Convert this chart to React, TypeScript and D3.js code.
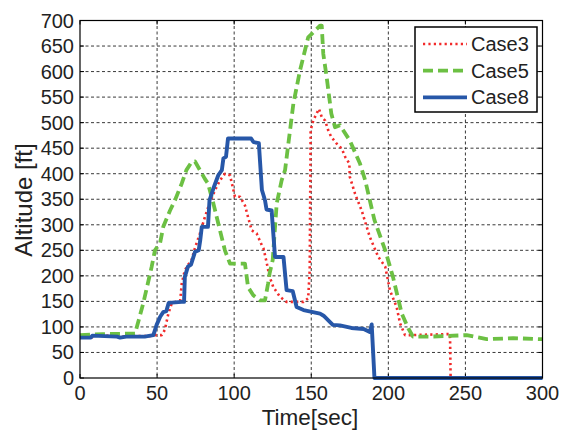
import React from "react";
import * as d3 from "d3";

const xTicks = [0, 50, 100, 150, 200, 250, 300];
const yTicks = [0, 50, 100, 150, 200, 250, 300, 350, 400, 450, 500, 550, 600, 650, 700];

const case3T = [0, 8, 10, 24, 26, 30, 45, 48.6, 53, 55, 57.3, 59.5, 65, 66, 68, 70, 72.4, 74.6, 77.8, 81, 84, 87.6, 90.8, 94, 97.3, 99.5, 100.5, 103.8, 107, 109, 111.4, 114.6, 117.9, 119, 121, 123, 125.4, 129.7, 134, 145, 148, 149, 149.6, 151.3, 153.5, 155, 156.8, 159, 161, 163, 166.5, 169.8, 172, 174.7, 175, 178.4, 182.7, 188, 193.5, 198, 201, 205.4, 207.6, 210.8, 214, 240, 240.4, 300];
const case3V = [80, 80, 84, 82, 80, 82, 82, 84, 84, 94, 126, 146, 152, 185, 211, 221, 231, 255, 283, 315, 342, 368, 387, 400, 397, 368, 355, 355, 338, 315, 289, 283, 260, 254, 227, 198, 178, 159, 149, 149, 156, 211, 485, 504, 518, 527, 511, 504, 485, 472, 459, 449, 433, 420, 394, 361, 328, 276, 237, 218, 172, 139, 107, 84, 84, 86, 0, 0];

const case5T = [0, 15, 35.7, 37.8, 41, 43, 46.5, 48.6, 52, 54, 58.4, 61.6, 66, 69, 72.4, 74.6, 77.8, 81, 83, 86.5, 90.8, 94, 97.3, 107, 109, 112.4, 116.8, 120, 122, 123, 125, 127.6, 130.8, 133, 138.4, 142.7, 148, 152.4, 155.7, 156.8, 157.8, 160, 163, 165.4, 168.6, 175, 181.6, 185, 191, 198, 203, 208.7, 213, 216, 227, 236.7, 250.8, 263.8, 281, 300];
const case5V = [84, 86, 87, 110, 146, 172, 218, 250, 265, 296, 328, 348, 381, 407, 423, 424, 407, 390, 381, 342, 289, 250, 224, 224, 178, 162, 152, 152, 185, 205, 231, 342, 387, 407, 537, 602, 667, 680, 690, 690, 635, 589, 518, 491, 495, 465, 420, 387, 309, 250, 198, 126, 97, 81, 81, 82, 84, 76, 78, 76];

const case8T = [0, 7, 8, 24, 26, 30, 42, 47.6, 49.7, 52, 54, 56, 57.5, 66, 67.5, 68, 70, 72, 74.6, 77, 78, 79, 83, 84, 86.5, 89.7, 92, 93, 94.7, 96, 111, 112.5, 116, 118, 120, 121, 124.3, 126.5, 132, 134, 138, 140.5, 145, 155.7, 158, 163, 164, 168.6, 176, 184, 188, 189.2, 191, 300];
const case8V = [79, 79, 83, 81, 79, 81, 81, 84, 104, 120, 129, 131, 147, 149, 149, 198, 218, 222, 247, 250, 270, 296, 296, 348, 371, 397, 407, 430, 433, 469, 469, 462, 460, 368, 348, 330, 328, 237, 237, 172, 170, 139, 133, 126, 122, 107, 104, 103, 98, 96, 90, 105, 0, 0];

const seriesNames = ["Case3", "Case5", "Case8"];

const FONT = "'Liberation Sans', Arial, Helvetica, sans-serif";

export default function App() {
  const left = 80, right = 542.5, top = 20.5, bottom = 378;
  const x = d3.scaleLinear().domain([0, 300]).range([left, right]);
  const y = d3.scaleLinear().domain([0, 700]).range([bottom, top]);
  const line = d3.line<[number, number]>().x((d) => x(d[0])).y((d) => y(d[1]));
  const mk = (t: number[], v: number[]) => line(t.map((tt, i) => [tt, v[i]] as [number, number])) || "";

  const styles = [
    { stroke: "#f22a2a", width: 2.6, dash: "2.2,3.2" },
    { stroke: "#6cc043", width: 3.8, dash: "10,5" },
    { stroke: "#2757a8", width: 3.9, dash: "" },
  ];
  const paths = [mk(case3T, case3V), mk(case5T, case5V), mk(case8T, case8V)];

  const lgX = 415, lgY = 27, lgW = 122, lgH = 85;

  return (
    <svg width={562} height={430} style={{ position: "fixed", left: 0, top: 0, background: "#fff" }} fontFamily={FONT}>
      <rect x={0} y={0} width={562} height={430} fill="#fff" />
      {xTicks.slice(1, -1).map((t) => (
        <line key={"gx" + t} x1={x(t)} x2={x(t)} y1={top} y2={bottom} stroke="#222" strokeWidth={0.9} strokeDasharray="3,2.5" />
      ))}
      {yTicks.slice(1, -1).map((t) => (
        <line key={"gy" + t} x1={left} x2={right} y1={y(t)} y2={y(t)} stroke="#222" strokeWidth={0.9} strokeDasharray="3,2.5" />
      ))}
      {xTicks.map((t) => (
        <g key={"tx" + t}>
          <line x1={x(t)} x2={x(t)} y1={bottom} y2={bottom - 4} stroke="#000" />
          <line x1={x(t)} x2={x(t)} y1={top} y2={top + 4} stroke="#000" />
          <text x={x(t)} y={400} textAnchor="middle" fontSize={20} fill="#222">{t}</text>
        </g>
      ))}
      {yTicks.map((t) => (
        <g key={"ty" + t}>
          <line x1={left} x2={left + 4} y1={y(t)} y2={y(t)} stroke="#000" />
          <line x1={right} x2={right - 4} y1={y(t)} y2={y(t)} stroke="#000" />
          <text x={74} y={y(t) + 7} textAnchor="end" fontSize={20} fill="#222">{t}</text>
        </g>
      ))}
      {paths.map((p, i) => (
        <path key={"s" + i} d={p} fill="none" stroke={styles[i].stroke} strokeWidth={styles[i].width}
          strokeDasharray={styles[i].dash || undefined} strokeLinejoin="round" />
      ))}
      <rect x={left} y={top} width={right - left} height={bottom - top} fill="none" stroke="#000" strokeWidth={1.2} />
      <text x={310} y={425} textAnchor="middle" fontSize={22.5} fill="#222">Time[sec]</text>
      <text transform={`translate(31.5,200) rotate(-90)`} textAnchor="middle" fontSize={24} fill="#222">Altitude [ft]</text>
      <rect x={lgX} y={lgY} width={lgW} height={lgH} fill="#fff" stroke="#000" strokeWidth={1.5} />
      {seriesNames.map((n, i) => {
        const yy = lgY + 17 + i * 26.7;
        return (
          <g key={"lg" + n}>
            <line x1={423} x2={467} y1={yy} y2={yy} stroke={styles[i].stroke} strokeWidth={styles[i].width}
              strokeDasharray={styles[i].dash || undefined} />
            <text x={471} y={yy + 7} fontSize={20} fill="#222">{n}</text>
          </g>
        );
      })}
    </svg>
  );
}
